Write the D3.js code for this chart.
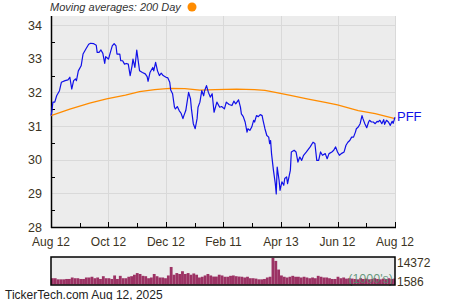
<!DOCTYPE html>
<html>
<head>
<meta charset="utf-8">
<script src="https://cdn.jsdelivr.net/npm/d3@7"></script>
<style>
  body { margin: 0; background: #fff; }
  text { font-family: "Liberation Sans", Arial, sans-serif; }
</style>
</head>
<body>
<div id="chart"></div>
<script>
// days counted from Aug 12, 2024
var startDate = new Date(2024, 7, 12)
var endDate = new Date(2025, 7, 12)

var priceDay = [
  0, 1, 2, 4, 6, 9, 11, 15, 18, 20,
  22, 24, 26, 27, 29, 32, 34, 37, 40, 42,
  45, 48, 49, 51, 53, 55, 57, 58, 61, 63,
  65, 67, 69, 70, 73, 74, 76, 78, 80, 82,
  84, 86, 87, 89, 91, 93, 94, 97, 100, 102,
  103, 105, 108, 109, 111, 113, 115, 117, 119, 122,
  124, 126, 127, 129, 131, 132, 134, 136, 138, 140,
  141, 143, 146, 148, 149, 151, 153, 155, 156, 158,
  160, 162, 163, 165, 167, 169, 171, 173, 176, 179,
  181, 184, 186, 189, 192, 194, 196, 199, 201, 202,
  204, 206, 208, 209, 211, 213, 215, 216, 218, 220,
  222, 224, 225, 227, 229, 231, 232, 233, 234, 236,
  238, 239, 240, 242, 243, 245, 247, 248, 250, 251,
  254, 255, 258, 260, 262, 264, 266, 268, 271, 275,
  278, 280, 282, 284, 286, 288, 291, 293, 295, 298,
  300, 302, 304, 306, 308, 311, 313, 315, 317, 319,
  321, 323, 324, 326, 328, 330, 331, 333, 335, 337,
  338, 340, 342, 344, 346, 347, 349, 351, 353, 354,
  356, 358, 360, 362, 363, 365
]
var priceClose = [
  31.31, 31.46, 31.71, 31.71, 31.90, 32.05, 32.30, 32.35, 32.37, 32.45,
  32.10, 32.35, 32.40, 32.35, 32.64, 32.79, 33.14, 33.29, 33.43, 33.46,
  33.45, 33.40, 33.19, 33.19, 33.26, 33.16, 32.86, 33.06, 32.99, 33.19,
  33.38, 33.45, 33.38, 33.14, 33.14, 32.94, 32.94, 32.84, 32.86, 32.84,
  32.50, 32.79, 32.99, 32.74, 33.26, 32.84, 32.64, 32.59, 32.55, 32.47,
  32.33, 32.59, 32.74, 32.64, 32.89, 32.64, 32.50, 32.57, 32.50, 32.45,
  32.43, 32.30, 32.07, 31.96, 31.56, 31.51, 31.58, 31.46, 31.38, 31.22,
  31.31, 31.46, 32.00, 31.81, 31.51, 31.07, 30.92, 31.22, 31.56, 31.71,
  32.05, 31.90, 32.05, 32.20, 32.00, 31.86, 31.96, 31.41, 31.71, 31.56,
  31.58, 31.51, 31.71, 31.64, 31.61, 31.74, 31.66, 31.78, 31.56, 31.36,
  31.28, 31.12, 30.82, 30.92, 30.87, 30.97, 31.17, 31.12, 31.31, 31.28,
  31.34, 31.31, 31.17, 30.92, 30.72, 30.67, 30.48, 30.57, 30.18, 29.69,
  29.29, 28.98, 29.78, 29.39, 29.09, 29.34, 29.24, 29.44, 29.49, 29.29,
  29.69, 30.23, 30.28, 30.23, 29.93, 30.08, 29.98, 30.13, 30.23, 30.38,
  30.52, 30.48, 29.98, 29.98, 30.23, 30.13, 30.18, 30.03, 30.18, 30.23,
  30.28, 30.38, 30.23, 30.13, 30.18, 30.23, 30.43, 30.52, 30.57, 30.67,
  30.67, 30.82, 30.92, 30.97, 31.07, 31.31, 31.22, 31.07, 30.95, 31.12,
  31.17, 31.12, 31.12, 31.07, 31.14, 31.12, 31.17, 31.07, 31.19, 31.05,
  31.17, 31.12, 31.02, 31.14, 31.08, 31.26
]

var maDay = [0, 20, 41, 59, 79, 94, 110, 126, 142, 158, 174, 197, 216, 227, 238, 254, 273, 291, 304, 326, 344, 365]
var maValue = [31.31, 31.50, 31.68, 31.81, 31.92, 32.02, 32.08, 32.12, 32.11, 32.07, 32.08, 32.10, 32.08, 32.06, 32.00, 31.91, 31.80, 31.70, 31.63, 31.46, 31.37, 31.22]

// volume in 1000's, one bar every 3 days
var volStep = 3
var volValue = [
  3400, 3400, 2800, 2800, 2800, 3000, 3000, 3800, 3400, 3400,
  3000, 3000, 3800, 3800, 4200, 3400, 3800, 3000, 4500, 3400,
  3400, 3000, 4900, 3000, 4700, 3400, 3400, 4200, 4500, 5300,
  6200, 5700, 4700, 4500, 3400, 3800, 5700, 4500, 3800, 3800,
  3400, 4900, 9500, 5300, 6200, 5700, 7200, 5700, 6200, 5300,
  6000, 5300, 3800, 4200, 4900, 5700, 4900, 4300, 4300, 5300,
  4900, 4200, 4200, 4700, 4900, 4500, 4300, 4200, 3800, 4200,
  3400, 3400, 3200, 2800, 2800, 3000, 3800, 4200, 14372, 12800,
  8100, 4900, 4200, 3800, 4200, 4700, 4200, 4200, 3800, 4200,
  3800, 3400, 3800, 3400, 4700, 4200, 3800, 3800, 3400, 3000,
  3000, 4200, 3400, 3800, 3200, 3400, 3200, 3000, 2800, 3400,
  3000, 3200, 2800, 3000, 3400, 3000, 2800, 3200, 3000, 3400,
  3000, 3200
]
var volLabels = [14372, 1586]

var xTickDates = [new Date(2024, 7, 12), new Date(2024, 9, 12), new Date(2024, 11, 12),
                  new Date(2025, 1, 11), new Date(2025, 3, 13), new Date(2025, 5, 12), new Date(2025, 7, 12)]
var xTickLabels = ["Aug 12", "Oct 12", "Dec 12", "Feb 11", "Apr 13", "Jun 12", "Aug 12"]
var yTicks = [28, 29, 30, 31, 32, 33, 34]

var W = 450, H = 300
var plot = { left: 51, right: 395, top: 16, bottom: 227 }
var vol = { top: 257, bottom: 285 }
var textColor = "#3b3322"
var bg = "#ececec"
var gridColor = "#d9d9d9"

var svg = d3.select("#chart").append("svg")
    .attr("width", W)
    .attr("height", H)

var x = d3.scaleTime()
    .domain([startDate, endDate])
    .range([plot.left, plot.right])
var y = d3.scaleLinear()
    .domain([28, 34.27])
    .range([plot.bottom, plot.top])
var yVol = d3.scaleLinear()
    .domain([0, 14372])
    .range([vol.bottom - 0.5, vol.top + 1])

var dayDate = function(d) { return d3.timeDay.offset(startDate, d) }

// plot background
svg.append("rect")
    .attr("x", plot.left).attr("y", plot.top)
    .attr("width", plot.right - plot.left).attr("height", plot.bottom - plot.top)
    .attr("fill", bg)

// grid
svg.append("g").selectAll("line")
    .data(yTicks.slice(1))
    .join("line")
        .attr("x1", plot.left).attr("x2", plot.right)
        .attr("y1", d => Math.round(y(d)) + 0.5).attr("y2", d => Math.round(y(d)) + 0.5)
        .attr("stroke", gridColor)
svg.append("g").selectAll("line")
    .data(xTickDates.slice(1))
    .join("line")
        .attr("x1", d => Math.round(x(d)) + 0.5).attr("x2", d => Math.round(x(d)) + 0.5)
        .attr("y1", plot.top).attr("y2", plot.bottom)
        .attr("stroke", gridColor)

// minor ticks (inside)
var minorX = d3.pairs(xTickDates).map(p => new Date((+p[0] + +p[1]) / 2))
svg.append("g").selectAll("line")
    .data(minorX)
    .join("line")
        .attr("x1", d => Math.round(x(d)) + 0.5).attr("x2", d => Math.round(x(d)) + 0.5)
        .attr("y1", plot.bottom - 4).attr("y2", plot.bottom)
        .attr("stroke", "#000")
svg.append("g").selectAll("line")
    .data(xTickDates)
    .join("line")
        .attr("x1", d => Math.round(x(d)) + 0.5).attr("x2", d => Math.round(x(d)) + 0.5)
        .attr("y1", plot.bottom - 5).attr("y2", plot.bottom)
        .attr("stroke", "#000")
svg.append("g").selectAll("line")
    .data(d3.range(28.5, 34.3, 1))
    .join("line")
        .attr("x1", plot.left).attr("x2", plot.left + 4)
        .attr("y1", d => Math.round(y(d)) + 0.5).attr("y2", d => Math.round(y(d)) + 0.5)
        .attr("stroke", "#000")

// axes lines
svg.append("line")
    .attr("x1", plot.left + 0.5).attr("x2", plot.left + 0.5)
    .attr("y1", plot.top).attr("y2", plot.bottom + 1)
    .attr("stroke", "#000").attr("stroke-width", 1.5)
svg.append("line")
    .attr("x1", plot.left).attr("x2", plot.right + 1)
    .attr("y1", plot.bottom + 0.5).attr("y2", plot.bottom + 0.5)
    .attr("stroke", "#000").attr("stroke-width", 1.5)

// tick labels
svg.append("g").selectAll("text")
    .data(yTicks)
    .join("text")
        .attr("x", 42)
        .attr("y", d => y(d))
        .attr("dy", "0.36em")
        .attr("text-anchor", "end")
        .attr("font-size", "12.5px")
        .attr("fill", textColor)
        .text(d => d)
svg.append("g").selectAll("text")
    .data(xTickDates)
    .join("text")
        .attr("x", d => x(d))
        .attr("y", 245.5)
        .attr("text-anchor", "middle")
        .attr("font-size", "12px")
        .attr("fill", textColor)
        .text((d, i) => xTickLabels[i])

// lines
var line = d3.line()
    .x(d => x(dayDate(d[0])))
    .y(d => y(d[1]))

svg.append("path")
    .datum(d3.zip(maDay, maValue))
    .attr("d", line)
    .attr("fill", "none")
    .attr("stroke", "#ff8c00")
    .attr("stroke-width", 1.3)

svg.append("path")
    .datum(d3.zip(priceDay, priceClose))
    .attr("d", line)
    .attr("fill", "none")
    .attr("stroke", "#1010e8")
    .attr("stroke-width", 1.2)
    .attr("stroke-linejoin", "round")

svg.append("text")
    .attr("x", 397)
    .attr("y", y(priceClose[priceClose.length - 1]) - 1)
    .attr("dy", "0.36em")
    .attr("font-size", "13px")
    .attr("fill", "#1010e8")
    .text("PFF")

// title
svg.append("text")
    .attr("x", 50)
    .attr("y", 11)
    .attr("font-size", "11px")
    .attr("font-style", "italic")
    .attr("fill", "#333")
    .text("Moving averages: 200 Day")
svg.append("circle")
    .attr("cx", 192).attr("cy", 7)
    .attr("r", 4.5)
    .attr("fill", "#ff8c00")

// volume panel
svg.append("rect")
    .attr("x", plot.left).attr("y", vol.top)
    .attr("width", plot.right - plot.left).attr("height", vol.bottom - vol.top)
    .attr("fill", bg)

svg.append("g").selectAll("rect")
    .data(volValue)
    .join("rect")
        .attr("x", (d, i) => x(dayDate(i * volStep)))
        .attr("width", (d, i) => Math.max(0, Math.min(x(dayDate((i + 1) * volStep)), plot.right) - x(dayDate(i * volStep))))
        .attr("y", d => yVol(d))
        .attr("height", d => yVol(0) - yVol(d))
        .attr("fill", "#9c3264")

svg.append("text")
    .attr("x", 393)
    .attr("y", 283)
    .attr("text-anchor", "end")
    .attr("font-size", "12.5px")
    .attr("fill", "#4f8a6a")
    .attr("fill-opacity", 0.85)
    .text("(1000's)")

svg.append("rect")
    .attr("x", plot.left).attr("y", vol.top)
    .attr("width", plot.right - plot.left).attr("height", vol.bottom - vol.top)
    .attr("fill", "none")
    .attr("stroke", "#000")
    .attr("stroke-width", 1.5)

svg.append("g").selectAll("text")
    .data(volLabels)
    .join("text")
        .attr("x", 397)
        .attr("y", (d, i) => i == 0 ? 262.7 : yVol(d))
        .attr("dy", "0.36em")
        .attr("font-size", "12px")
        .attr("fill", textColor)
        .text(d => d)

// footer
svg.append("text")
    .attr("x", 5)
    .attr("y", 298.5)
    .attr("font-size", "12px")
    .attr("fill", "#222")
    .text("TickerTech.com  Aug 12, 2025")
</script>
</body>
</html>
